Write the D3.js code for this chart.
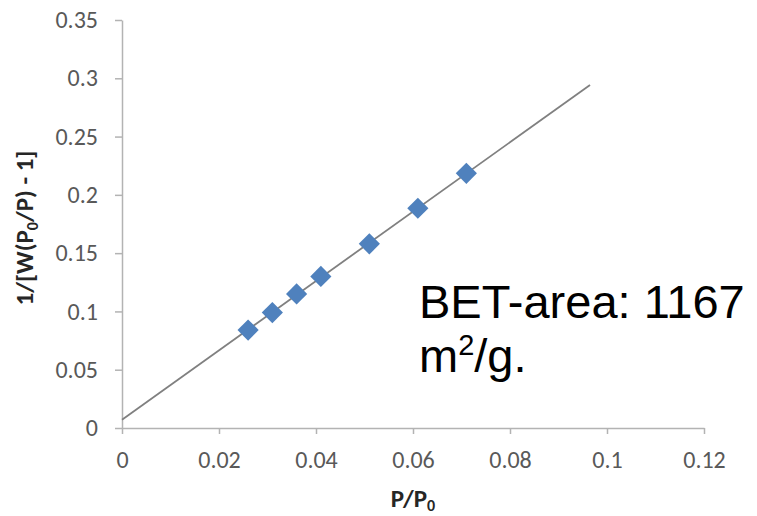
<!DOCTYPE html>
<html>
<head>
<meta charset="utf-8">
<script src="https://cdn.jsdelivr.net/npm/d3@7"></script>
<style>
  html, body { margin: 0; padding: 0; background: #fff; }
  svg { display: block; }
</style>
</head>
<body>
<svg id="chart" width="757" height="516"></svg>
<script>
// BET plot: relative pressure vs. 1/[W(P0/P) - 1]
const relPressure = [0.026, 0.031, 0.036, 0.041, 0.051, 0.061, 0.071];
const betValue    = [0.084, 0.099, 0.115, 0.130, 0.158, 0.1885, 0.2185];

const xTicks = [0, 0.02, 0.04, 0.06, 0.08, 0.1, 0.12];
const xTickLabels = ["0", "0.02", "0.04", "0.06", "0.08", "0.1", "0.12"];
const yTicks = [0, 0.05, 0.1, 0.15, 0.2, 0.25, 0.3, 0.35];
const yTickLabels = ["0", "0.05", "0.1", "0.15", "0.2", "0.25", "0.3", "0.35"];

// linear trendline extent along P/P0
const trendRange = [0, 0.0965];

const W = 757, H = 516;
const margin = { top: 20, right: 53, bottom: 88, left: 122 };

const svg = d3.select("#chart");

const x = d3.scaleLinear().domain([0, 0.12]).range([margin.left, W - margin.right]);
const y = d3.scaleLinear().domain([0, 0.35]).range([H - margin.bottom, margin.top]);

const tickFont = "Carlito, Lato, 'Open Sans', sans-serif";
const axisColor = "#b3b3b3";
const labelColor = "#595959";

// least-squares fit of the data
const n = relPressure.length;
const mx = d3.mean(relPressure), my = d3.mean(betValue);
let sxy = 0, sxx = 0;
for (let i = 0; i < n; i++) {
  sxy += (relPressure[i] - mx) * (betValue[i] - my);
  sxx += (relPressure[i] - mx) ** 2;
}
const slope = sxy / sxx;
const intercept = my - slope * mx;

// axes
const xAxis = svg.append("g")
  .attr("transform", `translate(0,${y(0)})`)
  .call(d3.axisBottom(x).tickValues(xTicks)
    .tickFormat((d, i) => xTickLabels[i]).tickSize(6).tickSizeOuter(0).tickPadding(17));

const yAxis = svg.append("g")
  .attr("transform", `translate(${x(0)},0)`)
  .call(d3.axisLeft(y).tickValues(yTicks)
    .tickFormat((d, i) => yTickLabels[i]).tickSize(7).tickSizeOuter(0).tickPadding(17));

[xAxis, yAxis].forEach(g => {
  g.select(".domain").attr("stroke", axisColor).attr("stroke-width", 1.5);
  g.selectAll(".tick line").attr("stroke", axisColor).attr("stroke-width", 1.5);
  g.selectAll(".tick text")
    .attr("fill", labelColor)
    .style("font-family", tickFont)
    .style("font-size", "24px");
});

// trendline
const trend = trendRange.map(v => [v, intercept + slope * v]);
svg.append("path")
  .datum(trend)
  .attr("d", d3.line().x(d => x(d[0])).y(d => y(d[1])))
  .attr("fill", "none")
  .attr("stroke", "#808080")
  .attr("stroke-width", 1.8);

// data markers (diamonds)
const diamond = d3.symbol().type(d3.symbolSquare).size(225);
svg.append("g")
  .selectAll("path")
  .data(relPressure.map((v, i) => [v, betValue[i]]))
  .join("path")
  .attr("d", diamond)
  .attr("transform", d => `translate(${x(d[0])},${y(d[1])}) rotate(45)`)
  .attr("fill", "#4F81BD");

// axis titles
const xTitle = svg.append("text")
  .attr("x", x(0.06))
  .attr("y", 507)
  .attr("text-anchor", "middle")
  .attr("fill", "#262626")
  .style("font-family", tickFont)
  .style("font-size", "25px")
  .style("font-weight", "bold");
xTitle.append("tspan").text("P/P");
xTitle.append("tspan").attr("dy", 4).style("font-size", "16px").text("0");

const yTitle = svg.append("text")
  .attr("transform", `translate(33,${(y(0) + y(0.35)) / 2 + 4}) rotate(-90)`)
  .attr("text-anchor", "middle")
  .attr("fill", "#262626")
  .style("font-family", tickFont)
  .style("font-size", "25px")
  .style("font-weight", "bold");
yTitle.append("tspan").text("1/[W(P");
yTitle.append("tspan").attr("dy", 5).style("font-size", "16px").text("0");
yTitle.append("tspan").attr("dy", -5).text("/P) - 1]");

// annotation
const noteFont = "'Liberation Sans', Arial, sans-serif";
svg.append("text")
  .attr("x", 419)
  .attr("y", 318)
  .attr("fill", "#000")
  .style("font-family", noteFont)
  .style("font-size", "47px")
  .text("BET-area: 1167");

const unit = svg.append("text")
  .attr("x", 419)
  .attr("y", 372)
  .attr("fill", "#000")
  .style("font-family", noteFont)
  .style("font-size", "47px");
unit.append("tspan").text("m");
unit.append("tspan").attr("dy", -17).style("font-size", "29px").text("2");
unit.append("tspan").attr("dy", 17).text("/g.");
</script>
</body>
</html>
